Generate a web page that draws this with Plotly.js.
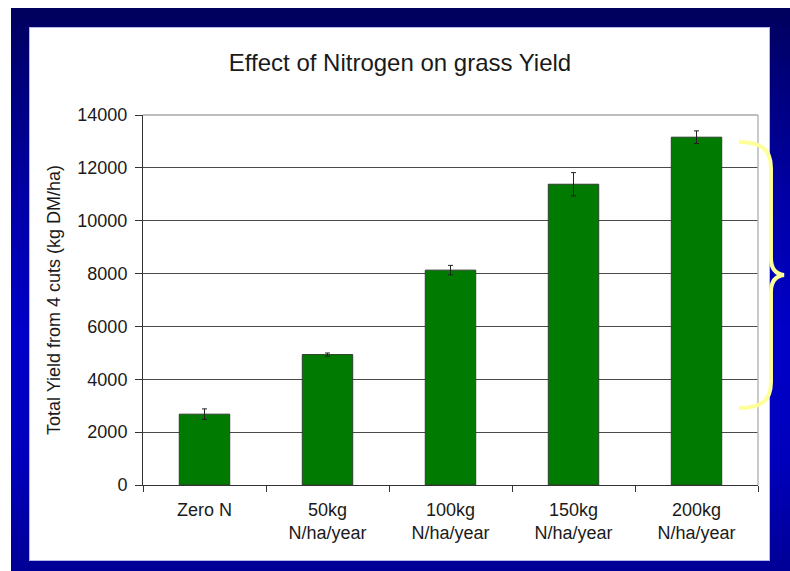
<!DOCTYPE html>
<html>
<head>
<meta charset="utf-8">
<script src="https://cdn.plot.ly/plotly-3.0.1.min.js"></script>
<style>
  html, body { margin:0; padding:0; background:#ffffff; width:790px; height:571px; overflow:hidden; }
  #frame { position:absolute; left:11px; top:8px; width:779px; height:563px;
    background: linear-gradient(to bottom, #00005c 0%, #00007a 12%, #0000a8 35%, #0000c8 58%, #0000bc 80%, #000096 100%); }
  #panel { position:absolute; left:29px; top:27px; width:739px; height:532px; background:#ffffff; border:1px solid #b4b8e6; }
  #chart { position:absolute; left:0; top:0; width:790px; height:571px; }
</style>
</head>
<body>
<div id="frame"></div>
<div id="panel"></div>
<div id="chart"></div>
<script>
// ---- data ----
const categories = ["Zero N", "50kg<br>N/ha/year", "100kg<br>N/ha/year", "150kg<br>N/ha/year", "200kg<br>N/ha/year"];
const yieldValues = [2680, 4935, 8130, 11380, 13160];
const errorValues = [200, 60, 180, 440, 240];
const yTickValues = [0, 2000, 4000, 6000, 8000, 10000, 12000, 14000];

const W = 790, H = 571;
const M = {l: 143, r: 32, t: 115, b: 86};
const plotW = W - M.l - M.r, plotH = H - M.t - M.b;
// helpers for decoration shapes (pixel -> paper)
const px = x => (x - M.l) / plotW;
const py = y => (H - M.b - y) / plotH;
const pt = (x, y) => px(x).toFixed(4) + ',' + py(y).toFixed(4);

const bracePath =
  'M ' + pt(739, 142) +
  ' C ' + pt(762, 142) + ' ' + pt(771, 150) + ' ' + pt(771, 168) +
  ' L ' + pt(771, 258) +
  ' C ' + pt(771, 268) + ' ' + pt(775, 274) + ' ' + pt(784, 275) +
  ' C ' + pt(775, 276) + ' ' + pt(771, 282) + ' ' + pt(771, 292) +
  ' L ' + pt(771, 382) +
  ' C ' + pt(771, 400) + ' ' + pt(762, 408) + ' ' + pt(739, 408);

const font = 'Liberation Sans, Arial, sans-serif';

const trace = {
  type: 'bar',
  x: categories,
  y: yieldValues,
  marker: { color: '#007a00', line: { color: '#2b3f2b', width: 1 } },
  error_y: { type: 'data', array: errorValues, visible: true, color: '#222222', thickness: 1, width: 2.5 },
  hoverinfo: 'none'
};

const layout = {
  width: W, height: H,
  margin: M,
  paper_bgcolor: 'rgba(0,0,0,0)',
  plot_bgcolor: '#ffffff',
  showlegend: false,
  bargap: 0.59,
  font: { family: font, size: 18, color: '#1a1a1a' },
  title: { text: 'Effect of Nitrogen on grass Yield', font: { family: font, size: 24, color: '#1a1a1a' },
           xref: 'container', yref: 'container', x: 400 / W, y: 1 - 63 / H, xanchor: 'center', yanchor: 'middle' },
  xaxis: {
    type: 'category',
    showgrid: false, zeroline: false,
    showline: true, linecolor: '#333333', linewidth: 1,
    ticks: 'outside', tickson: 'boundaries', ticklen: 6, tickcolor: '#333333', tickwidth: 1,
    tickfont: { family: font, size: 18, color: '#1a1a1a' },
    ticklabelstandoff: 8
  },
  yaxis: {
    range: [0, 14000],
    tickvals: yTickValues,
    tickformat: 'd',
    showgrid: true, gridcolor: '#4a4a4a', gridwidth: 1,
    zeroline: false,
    showline: true, linecolor: '#333333', linewidth: 1,
    ticks: 'outside', ticklen: 7, tickcolor: '#333333', tickwidth: 1,
    tickfont: { family: font, size: 18, color: '#1a1a1a' },
    ticklabelstandoff: 4,
    title: { text: 'Total Yield from 4 cuts (kg DM/ha)', font: { family: font, size: 18, color: '#1a1a1a' }, standoff: 12 }
  },
  shapes: [
    { type: 'line', xref: 'paper', yref: 'paper', x0: 0, x1: 1, y0: 1, y1: 1, line: { color: '#a8a8a8', width: 1.5 }, layer: 'above' },
    { type: 'line', xref: 'paper', yref: 'paper', x0: 1, x1: 1, y0: 0, y1: 1, line: { color: '#b8b8b8', width: 1.5 }, layer: 'above' },
    { type: 'path', xref: 'paper', yref: 'paper', path: bracePath, line: { color: '#ffff99', width: 4 }, fillcolor: 'rgba(0,0,0,0)', layer: 'above' }
  ]
};

Plotly.newPlot('chart', [trace], layout, { displayModeBar: false, staticPlot: true });
</script>
</body>
</html>
